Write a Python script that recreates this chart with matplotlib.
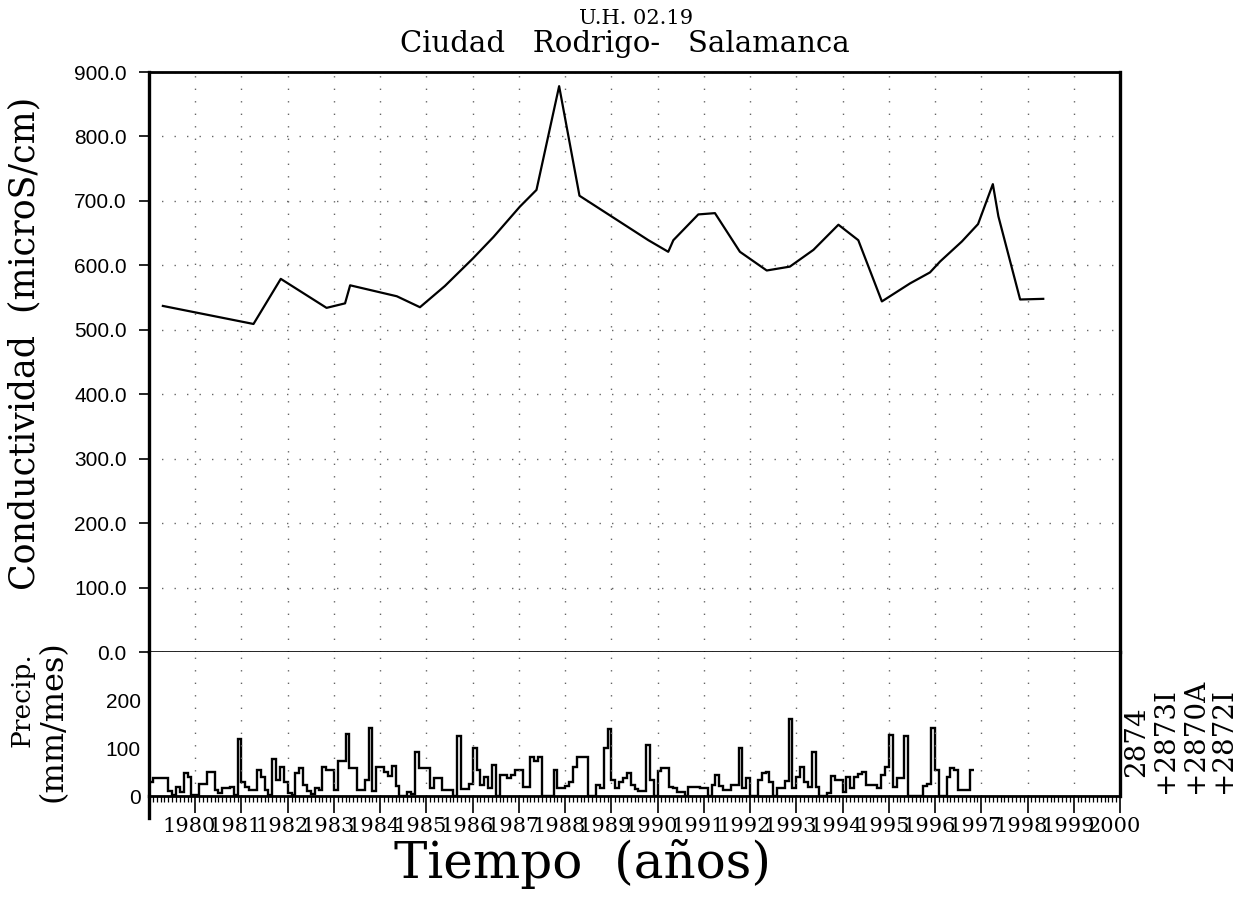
import numpy as np
import matplotlib
matplotlib.use("Agg")
import matplotlib.pyplot as plt
from matplotlib.ticker import MultipleLocator, FixedLocator
import matplotlib.transforms as mtransforms

# conductivity samples (decimal year, microS/cm)
cond_year = [1979.30, 1981.26, 1981.85, 1982.84, 1983.24, 1983.35, 1984.36, 1984.86,
             1985.40, 1986.01, 1986.45, 1987.02, 1987.38, 1987.87, 1988.31, 1989.80,
             1990.23, 1990.34, 1990.88, 1991.24, 1991.78, 1992.36, 1992.86, 1993.37,
             1993.91, 1994.34, 1994.85, 1995.46, 1995.89, 1996.11, 1996.58, 1996.93,
             1997.25, 1997.37, 1997.84, 1998.34]
cond_val = [537, 509, 579, 534, 541, 569, 552, 535,
            568, 611, 644, 691, 717, 878, 708, 639,
            621, 639, 679, 681, 621, 592, 598, 624,
            663, 639, 544, 572, 589, 606, 637, 664,
            726, 676, 547, 548]

# monthly precipitation (mm/mes), Jan 1979 onwards
precip_1979 = [30, 37, 37, 37, 37, 11, 3, 19, 9, 47, 40, 2]
precip_1980 = [3, 26, 26, 51, 51, 12, 6, 16, 16, 19, 2, 118]
precip_1981 = [30, 19, 12, 12, 54, 40, 12, 2, 78, 33, 61, 30]
precip_1982 = [7, 2, 48, 58, 23, 10, 5, 16, 12, 60, 54, 54]
precip_1983 = [12, 72, 72, 130, 58, 58, 12, 12, 33, 142, 11, 61]
precip_1984 = [61, 50, 42, 62, 21, 0, 0, 9, 5, 92, 58, 58]
precip_1985 = [58, 16, 37, 37, 12, 12, 12, 0, 125, 14, 14, 26]
precip_1986 = [99, 55, 23, 40, 16, 65, 0, 44, 44, 37, 44, 54]
precip_1987 = [54, 19, 19, 81, 72, 82, 0, 0, 0, 54, 16, 16]
precip_1988 = [20, 30, 61, 81, 81, 81, 0, 0, 23, 16, 99, 139]
precip_1989 = [33, 16, 30, 37, 47, 23, 14, 11, 11, 106, 33, 0]
precip_1990 = [53, 58, 58, 19, 16, 9, 9, 0, 19, 18, 18, 16]
precip_1991 = [16, 0, 23, 44, 21, 12, 12, 23, 23, 101, 16, 37]
precip_1992 = [0, 0, 33, 47, 51, 30, 0, 16, 16, 32, 160, 16]
precip_1993 = [40, 60, 30, 19, 92, 19, 0, 0, 7, 42, 33, 33]
precip_1994 = [8, 39, 16, 39, 46, 51, 23, 23, 23, 16, 44, 60]
precip_1995 = [127, 19, 37, 37, 124, 0, 0, 0, 0, 21, 26, 141]
precip_1996 = [55, 0, 0, 40, 58, 55, 12, 12, 12, 55]

precip = (precip_1979 + precip_1980 + precip_1981 + precip_1982 + precip_1983 +
          precip_1984 + precip_1985 + precip_1986 + precip_1987 + precip_1988 +
          precip_1989 + precip_1990 + precip_1991 + precip_1992 + precip_1993 +
          precip_1994 + precip_1995 + precip_1996)
edges = 1979 + np.arange(len(precip) + 1) / 12.0

years = list(range(1980, 2001))
year_labels = [str(y) for y in years]
stations = ["2874", "+2873I", "+2870A", "+2872I"]

serif = "DejaVu Serif"
sans = "Liberation Sans"
grid_kw = dict(color="0.4", lw=1.0, ls=(0, (1, 8)))

fig = plt.figure(figsize=(12.51, 8.99), dpi=100)
left, width = 149 / 1251, 971 / 1251
ax = fig.add_axes([left, 1 - 652 / 899, width, 580 / 899])
ax2 = fig.add_axes([left, 1 - 796 / 899, width, 144 / 899], sharex=ax)

# upper panel: conductivity
ax.plot(cond_year, cond_val, color="black", lw=1.6)
ax.set_xlim(1979, 2000)
ax.set_ylim(0, 900)
ax.yaxis.set_major_locator(MultipleLocator(100))
ax.set_yticklabels([f"{v:.1f}" for v in ax.get_yticks()], fontfamily=sans, fontsize=15)
ax.tick_params(axis="y", direction="out", length=7, width=1.2, pad=9)
ax.tick_params(axis="x", which="both", bottom=False, labelbottom=False)
ax.xaxis.set_major_locator(FixedLocator(years))
ax.grid(True, **grid_kw)
for s in ["left", "right"]:
    ax.spines[s].set_linewidth(2.4)
ax.spines["top"].set_linewidth(2.0)
ax.spines["bottom"].set_linewidth(1.2)

fig.text(636 / 1251, 1 - 18 / 899, "U.H. 02.19", ha="center", va="center",
         fontfamily=serif, fontsize=15)
fig.text(625 / 1251, 1 - 44 / 899, "Ciudad   Rodrigo-   Salamanca", ha="center",
         va="center", fontfamily=serif, fontsize=21)

# lower panel: precipitation
ax2.stairs(precip, edges, baseline=None, color="black", lw=1.7)
ax2.set_ylim(0, 300)
ax2.set_yticks([0, 100, 200])
ax2.set_yticklabels(["0", "100", "200"], fontfamily=sans, fontsize=15)
ax2.tick_params(axis="y", length=0, pad=6)
ax2.xaxis.set_major_locator(FixedLocator(years))
ax2.xaxis.set_minor_locator(MultipleLocator(1 / 12))
ax2.tick_params(axis="x", which="major", direction="out", length=12, width=1.2, pad=3)
ax2.tick_params(axis="x", which="minor", direction="out", length=4, width=0.9)
ax2.set_xticklabels(year_labels, fontfamily=serif, fontsize=15)
shift = mtransforms.ScaledTranslation(-6 / 100, 0, fig.dpi_scale_trans)
for lab in ax2.get_xticklabels():
    lab.set_transform(lab.get_transform() + shift)
ax2.xaxis.grid(True, **grid_kw)
ax2.spines["top"].set_visible(False)
for s in ["left", "right"]:
    ax2.spines[s].set_linewidth(2.4)
ax2.spines["bottom"].set_linewidth(2.0)
ax2.plot([0, 0], [0, -0.15], transform=ax2.transAxes, color="black", lw=2.4,
         clip_on=False)

# axis labels
fig.text(24 / 1251, 1 - 343 / 899, "Conductividad  (microS/cm)", rotation=90,
         ha="center", va="center", fontfamily=serif, fontsize=25)
fig.text(22 / 1251, 1 - 700 / 899, "Precip.", rotation=90,
         ha="center", va="center", fontfamily=serif, fontsize=19)
fig.text(53 / 1251, 1 - 721 / 899, "(mm/mes)", rotation=90,
         ha="center", va="center", fontfamily=serif, fontsize=23)
fig.text(582 / 1251, 1 - 864 / 899, "Tiempo  (años)", ha="center", va="center",
         fontfamily=serif, fontsize=36)

# station codes on the right
for i, name in enumerate(stations):
    ybot = 777 if i == 0 else 793
    fig.text((1137 + 29 * i) / 1251, 1 - ybot / 899, name, rotation=90,
             ha="center", va="bottom", fontfamily=serif, fontsize=20)

fig.savefig("out.png", dpi=100)
